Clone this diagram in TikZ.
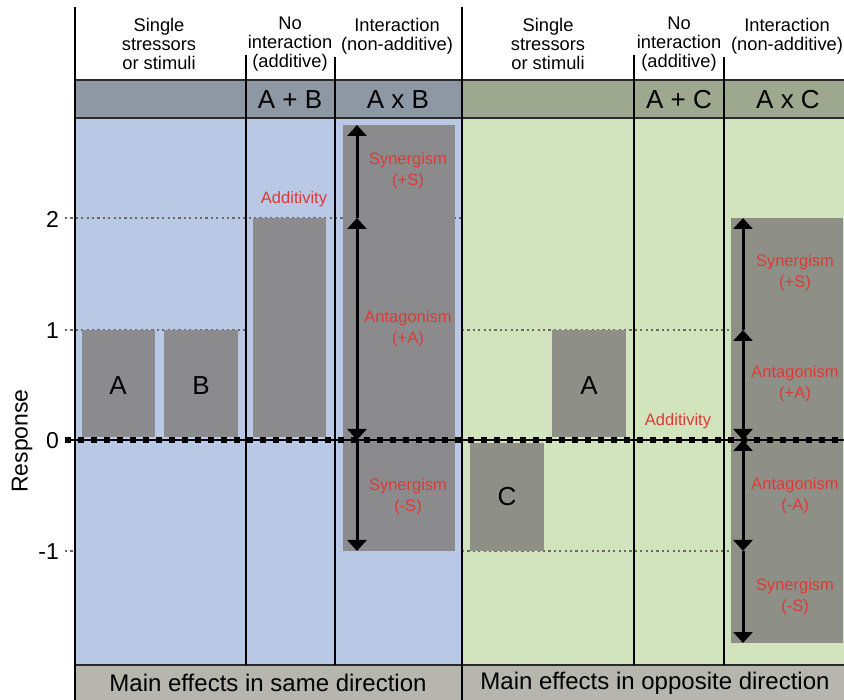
\documentclass[tikz,border=0pt]{standalone}
\usepackage{fontspec}
\setmainfont{Liberation Sans}
\usetikzlibrary{arrows.meta}
\definecolor{blueBg}{HTML}{B9C8E4}
\definecolor{greenBg}{HTML}{D1E4BD}
\definecolor{hdrBlue}{HTML}{8E97A4}
\definecolor{hdrGreen}{HTML}{9DA88E}
\definecolor{barGrey}{HTML}{8B8B8D}
\definecolor{barGreyG}{HTML}{8E8F87}
\definecolor{footGrey}{HTML}{B6B5AE}
\definecolor{redLbl}{HTML}{DC3A35}
\definecolor{dotGrey}{HTML}{6F6666}
\definecolor{rule}{HTML}{2A2A2A}
\begin{document}
\begin{tikzpicture}[x=1pt,y=-1pt,
  bar/.style={fill=barGrey, draw=none, inner sep=0pt, anchor=north west,
    font=\fontsize{26}{28}\selectfont},
  barg/.style={bar, fill=barGreyG},
  vline/.style={line width=2.2pt, black},
  hline/.style={line width=2pt, rule},
  refline/.style={line width=2.4pt, dotGrey, dash pattern=on 2.2pt off 3.2pt},
  arr/.style={line width=3pt, black},
  hdrtxt/.style={align=center, font=\fontsize{18.3}{19}\selectfont, inner sep=0pt},
  optxt/.style={font=\fontsize{26}{28}\selectfont, inner sep=0pt},
  redtxt/.style={align=center, text=redLbl, font=\fontsize{16.5}{21}\selectfont, inner sep=0pt},
  ticktxt/.style={anchor=east, font=\fontsize{23}{25}\selectfont, inner sep=0pt},
  foottxt/.style={font=\fontsize{24}{26}\selectfont, inner sep=0pt}
]
\useasboundingbox (0,0) rectangle (844,700);
\fill[white] (0,0) rectangle (844,700);
% backgrounds
\fill[blueBg] (75,118) rectangle (462,665);
\fill[greenBg] (462,118) rectangle (844,665);
\fill[hdrBlue] (75,80) rectangle (462,118);
\fill[hdrGreen] (462,80) rectangle (844,118);
\fill[footGrey] (75,665) rectangle (844,700);
% reference lines (behind bars)
\draw[refline] (65,218) -- (462,218);
\draw[refline] (65,330) -- (246,330);
\draw[refline] (462,330) -- (844,330);
\draw[refline] (65,551) -- (75,551);
\draw[refline] (462,551) -- (844,551);
% bars, left panel
\node[bar, minimum width=73pt, minimum height=107pt] (barA) at (82,330) {};
\node[bar, minimum width=74pt, minimum height=107pt] (barB) at (164,330) {};
\node[bar, minimum width=73pt, minimum height=219pt] (barAB) at (253,218) {};
\node[bar, minimum width=112pt, minimum height=426pt] (barAxB) at (343,125) {};
% bars, right panel
\node[barg, minimum width=74pt, minimum height=108pt] (barC) at (470,443) {};
\node[barg, minimum width=74pt, minimum height=107pt] (barA2) at (552,330) {};
\node[barg, minimum width=112pt, minimum height=425pt] (barAxC) at (731,218) {};
% bar labels
\node[optxt] (lblA) at (118,386) {A};
\node[optxt] (lblB) at (201,386) {B};
\node[optxt] (lblC) at (507,497) {C};
\node[optxt] (lblA2) at (589,386) {A};
% header and footer rules
\draw[hline] (75,80) -- (844,80);
\draw[hline] (75,118) -- (844,118);
\draw[hline] (75,665) -- (844,665);
% vertical lines
\draw[vline] (75,7) -- (75,700);
\draw[vline] (462,7) -- (462,700);
\draw[vline] (246,55) -- (246,665);
\draw[vline] (335,57) -- (335,665);
\draw[vline] (634,55) -- (634,665);
\draw[vline] (724,57) -- (724,665);
% zero line
\coordinate (z0) at (65,440);
\coordinate (z1) at (844,440);
\draw[line width=1.8pt, black] (z0) -- (z1);
\draw[line width=6pt, black, dash pattern=on 6pt off 7pt] (z0) -- (z1);
% arrows in A x B
\coordinate (l0) at (357,125);
\coordinate (l1) at (357,218);
\coordinate (l2) at (357,440);
\coordinate (l3) at (357,551);
\draw[arr, -{Triangle[width=19pt,length=11pt]}] (l1) -- (l0);
\draw[arr, {Triangle[width=19pt,length=11pt]}-{Triangle[width=19pt,length=11pt]}] (l1) -- (l2);
\draw[arr, -{Triangle[width=19pt,length=11pt]}] (l2) -- (l3);
% arrows in A x C
\coordinate (r0) at (743,218);
\coordinate (r1) at (743,330);
\coordinate (r2) at (743,440);
\coordinate (r3) at (743,551);
\coordinate (r4) at (743,643);
\draw[arr, -{Triangle[width=19pt,length=11pt]}] (r1) -- (r0);
\draw[arr, {Triangle[width=19pt,length=11pt]}-{Triangle[width=19pt,length=11pt]}] (r1) -- (r2);
\draw[arr, {Triangle[width=19pt,length=11pt]}-{Triangle[width=19pt,length=11pt]}] (r2) -- (r3);
\draw[arr, -{Triangle[width=19pt,length=11pt]}] (r3) -- (r4);
% red labels
\node[redtxt] (addL) at (294,199) {Additivity};
\node[redtxt] (synPL) at (408,171) {Synergism\\(+S)};
\node[redtxt] (antPL) at (408,329) {Antagonism\\(+A)};
\node[redtxt] (synML) at (408,497) {Synergism\\(-S)};
\node[redtxt] (addR) at (678,421) {Additivity};
\node[redtxt] (synPR) at (795,273) {Synergism\\(+S)};
\node[redtxt] (antPR) at (795,384) {Antagonism\\(+A)};
\node[redtxt] (antMR) at (795,496) {Antagonism\\(-A)};
\node[redtxt] (synMR) at (795,597) {Synergism\\(-S)};
% column headers
\node[hdrtxt] (h1) at (159,44) {Single\\stressors\\or stimuli};
\node[hdrtxt] (h2) at (290,44) {No\\interaction\\(additive)};
\node[hdrtxt, anchor=north] (h3) at (397,18) {Interaction\\(non-additive)};
\node[hdrtxt] (h4) at (548,44) {Single\\stressors\\or stimuli};
\node[hdrtxt] (h5) at (679,44) {No\\interaction\\(additive)};
\node[hdrtxt, anchor=north] (h6) at (787,18) {Interaction\\(non-additive)};
% operation labels
\node[optxt] (opAB) at (290,100) {A + B};
\node[optxt] (opAxB) at (398,100) {A x B};
\node[optxt] (opAC) at (679,100) {A + C};
\node[optxt] (opAxC) at (788,100) {A x C};
% axis
\node[ticktxt] (t2) at (59,219) {2};
\node[ticktxt] (t1) at (59,331) {1};
\node[ticktxt] (t0) at (59,441) {0};
\node[ticktxt] (tm1) at (59,552) {-1};
\node[rotate=90, font=\fontsize{23}{25}\selectfont, inner sep=0pt] (resp) at (22,441) {Response};
% footer
\node[foottxt] (f1) at (268,683) {Main effects in same direction};
\node[foottxt] (f2) at (655,683) {Main effects in opposite direction};
\end{tikzpicture}
\end{document}
